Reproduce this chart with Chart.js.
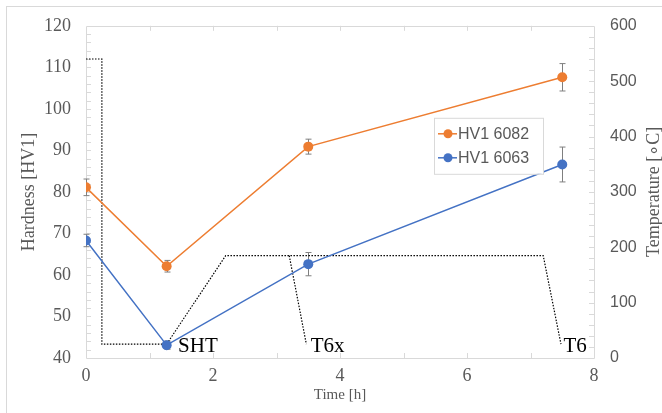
<!DOCTYPE html>
<html>
<head>
<meta charset="utf-8">
<script src="https://cdn.jsdelivr.net/npm/chart.js@4/dist/chart.umd.min.js"></script>
<style>
  html, body { margin: 0; padding: 0; background: #fff; overflow: hidden; }
  #wrap { position: relative; width: 662px; height: 413px; }
  #frame { position: absolute; left: 6px; top: 6px; width: 700px; height: 500px; border: 1px solid #d9d9d9; }
  canvas { position: absolute; left: 0; top: 0; }
</style>
</head>
<body>
<div id="wrap">
  <div id="frame"></div>
  <canvas id="hardnessChart" width="662" height="413"></canvas>
</div>
<script>
// hardness measurements
const times = [0, 1.27, 3.5, 7.5];
const hv6082 = [81.1, 62.1, 90.9, 107.6];
const hv6082Err = [2.0, 1.4, 1.8, 3.3];
const hv6063 = [68.3, 43.1, 62.6, 86.6];
const hv6063Err = [1.5, 1.0, 2.8, 4.2];

// heat treatment temperature profile
const tempTimes = [0, 0.25, 0.25, 1.27, 2.2, 7.2, 7.48];
const tempValues = [540, 540, 25, 25, 185, 185, 25];
const t6xTimes = [3.2, 3.47];
const t6xValues = [185, 25];

// stage labels [text, time, temperature]
const stageLabels = ['SHT', 'T6x', 'T6'];
const stageTimes = [1.45, 3.54, 7.52];
const stageTemps = [11, 11, 11];

const xTicks = [0, 2, 4, 6, 8];

const grey = '#595959';
const axisColor = '#d9d9d9';
const serif = '"Liberation Serif", "Times New Roman", serif';
const sans = '"Liberation Sans", Arial, sans-serif';

function pts(xs, ys) {
  return xs.map((x, i) => ({ x: x, y: ys[i] }));
}

const frame = {
  id: 'frame',
  beforeDatasetsDraw(chart) {
    const ctx = chart.ctx;
    const a = chart.chartArea;
    const sx = chart.scales.x, sy = chart.scales.y, sy2 = chart.scales.y2;
    ctx.save();
    ctx.strokeStyle = axisColor;
    ctx.lineWidth = 1;
    ctx.beginPath();
    ctx.rect(Math.round(a.left) + 0.5, Math.round(a.top) + 0.5, Math.round(a.right - a.left), Math.round(a.bottom - a.top));
    // inward ticks
    for (let t = 1; t < 8; t++) {
      const px = Math.round(sx.getPixelForValue(t)) + 0.5;
      ctx.moveTo(px, a.bottom); ctx.lineTo(px, a.bottom - 5);
      ctx.moveTo(px, a.top); ctx.lineTo(px, a.top + 5);
    }
    for (let v = 42; v < 120; v += 2) {
      const py = Math.round(sy.getPixelForValue(v)) + 0.5;
      ctx.moveTo(a.left, py); ctx.lineTo(a.left + 5, py);
    }
    for (let v = 20; v < 600; v += 20) {
      const py = Math.round(sy2.getPixelForValue(v)) + 0.5;
      ctx.moveTo(a.right, py); ctx.lineTo(a.right - 5, py);
    }
    ctx.stroke();

    // error bars
    ctx.strokeStyle = '#7f7f7f';
    ctx.lineWidth = 1;
    [[hv6082, hv6082Err], [hv6063, hv6063Err]].forEach(([vals, errs]) => {
      vals.forEach((v, i) => {
        const px = Math.round(sx.getPixelForValue(times[i])) + 0.5;
        const top = sy.getPixelForValue(v + errs[i]);
        const bot = sy.getPixelForValue(v - errs[i]);
        ctx.beginPath();
        ctx.moveTo(px, top); ctx.lineTo(px, bot);
        ctx.moveTo(px - 3, top); ctx.lineTo(px + 3, top);
        ctx.moveTo(px - 3, bot); ctx.lineTo(px + 3, bot);
        ctx.stroke();
      });
    });
    ctx.restore();
  },
  afterDraw(chart) {
    const ctx = chart.ctx;
    const a = chart.chartArea;
    const sx = chart.scales.x, sy2 = chart.scales.y2;
    ctx.save();
    // stage labels
    ctx.fillStyle = '#000';
    ctx.font = '21px ' + serif;
    ctx.textAlign = 'left';
    ctx.textBaseline = 'alphabetic';
    stageLabels.forEach((s, i) => {
      ctx.fillText(s, sx.getPixelForValue(stageTimes[i]), sy2.getPixelForValue(stageTemps[i]));
    });

    // right axis title
    ctx.fillStyle = grey;
    ctx.font = '18px ' + serif;
    ctx.textAlign = 'center';
    ctx.textBaseline = 'middle';
    ctx.translate(654, (a.top + a.bottom) / 2);
    ctx.rotate(-Math.PI / 2);
    ctx.fillText('Temperature [\u2218C]', 0, 0);
    ctx.restore();

    // legend box
    ctx.save();
    const lx = a.left + 348, ly = a.top + 92, lw = 109, lh = 56;
    ctx.fillStyle = '#fff';
    ctx.fillRect(lx, ly, lw, lh);
    ctx.strokeStyle = axisColor;
    ctx.strokeRect(lx + 0.5, ly + 0.5, lw, lh);
    ctx.font = '16px ' + sans;
    ctx.textBaseline = 'middle';
    chart.data.datasets.slice(0, 2).forEach((ds, i) => {
      const y = ly + 16 + i * 24;
      ctx.strokeStyle = ds.borderColor;
      ctx.lineWidth = 1.5;
      ctx.beginPath();
      ctx.moveTo(lx + 4, y); ctx.lineTo(lx + 23, y);
      ctx.stroke();
      ctx.fillStyle = ds.backgroundColor;
      ctx.beginPath();
      ctx.arc(lx + 14, y, 4.5, 0, Math.PI * 2);
      ctx.fill();
      ctx.fillStyle = grey;
      ctx.fillText(ds.label, lx + 24, y + 1);
    });
    ctx.restore();
  }
};

const ctx = document.getElementById('hardnessChart').getContext('2d');
const chart = new Chart(ctx, {
  type: 'line',
  data: {
    datasets: [{
      label: 'HV1 6082',
      data: pts(times, hv6082),
      borderColor: '#ED7D31',
      backgroundColor: '#ED7D31',
      borderWidth: 1.5,
      pointRadius: 5,
      pointBorderWidth: 0,
      yAxisID: 'y'
    }, {
      label: 'HV1 6063',
      data: pts(times, hv6063),
      borderColor: '#4472C4',
      backgroundColor: '#4472C4',
      borderWidth: 1.5,
      pointRadius: 5,
      pointBorderWidth: 0,
      yAxisID: 'y'
    }, {
      label: 'Temperature',
      data: pts(tempTimes, tempValues),
      borderColor: '#000',
      borderWidth: 1.2,
      borderDash: [1.5, 1.5],
      pointRadius: 0,
      yAxisID: 'y2'
    }, {
      label: 'T6x',
      data: pts(t6xTimes, t6xValues),
      borderColor: '#000',
      borderWidth: 1.2,
      borderDash: [1.5, 1.5],
      pointRadius: 0,
      yAxisID: 'y2'
    }]
  },
  options: {
    responsive: false,
    animation: false,
    devicePixelRatio: 1,
    layout: { padding: { top: 22, left: 0, right: 0, bottom: 0 } },
    plugins: { legend: { display: false }, tooltip: { enabled: false } },
    scales: {
      x: {
        type: 'linear',
        min: 0, max: 8,
        afterFit: s => { s.height = 55; },
        afterBuildTicks: s => { s.ticks = xTicks.map(v => ({ value: v })); },
        grid: { display: false, drawTicks: false },
        border: { display: false },
        ticks: { color: grey, font: { family: serif, size: 18 }, padding: 7 },
        title: { display: true, text: 'Time [h]', color: grey, font: { family: serif, size: 15 }, padding: { top: 0, bottom: 9 } }
      },
      y: {
        position: 'left',
        min: 40, max: 120,
        afterFit: s => { s.width = 86; },
        grid: { display: false, drawTicks: false },
        border: { display: false },
        ticks: { stepSize: 10, color: grey, font: { family: serif, size: 18 }, padding: 15 },
        title: { display: true, text: 'Hardness [HV1]', color: grey, font: { family: serif, size: 18 }, padding: { top: 18, bottom: 0 } }
      },
      y2: {
        position: 'right',
        min: 0, max: 600,
        afterFit: s => { s.width = 68; },
        grid: { display: false, drawTicks: false },
        border: { display: false },
        ticks: { stepSize: 100, color: grey, font: { family: sans, size: 16 }, padding: 16 }
      }
    }
  },
  plugins: [frame]
});
</script>
</body>
</html>
